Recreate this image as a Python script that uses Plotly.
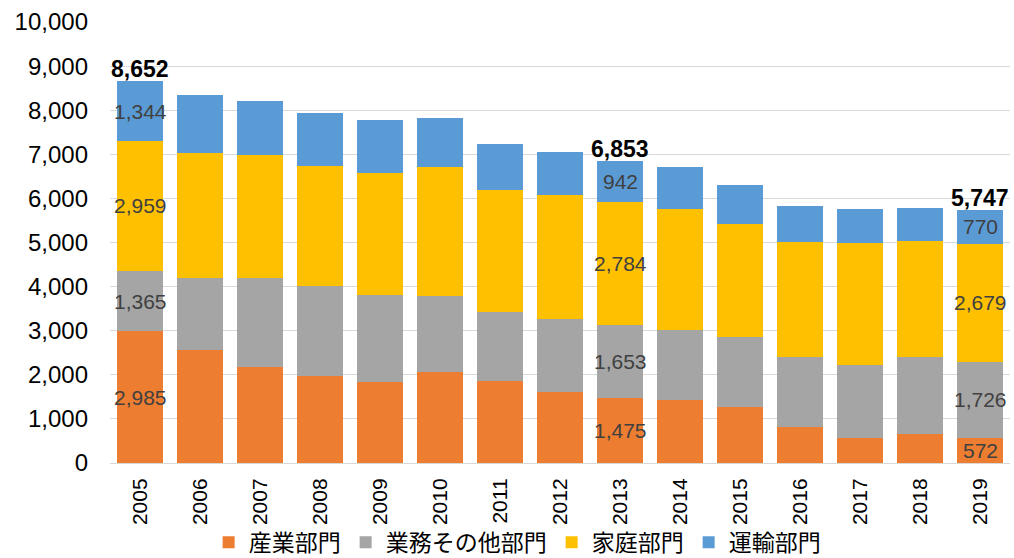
import plotly.graph_objects as go

years = [str(y) for y in range(2005, 2020)]

# Sector values per year
industry = [2985, 2573, 2178, 1974, 1838, 2065, 1854, 1620, 1475, 1439, 1271, 817, 576, 658, 572]
business = [1365, 1625, 2006, 2036, 1967, 1725, 1559, 1648, 1653, 1572, 1588, 1588, 1657, 1740, 1726]
household = [2959, 2830, 2791, 2722, 2775, 2920, 2775, 2806, 2784, 2746, 2564, 2610, 2752, 2633, 2679]
transport = [1344, 1316, 1239, 1196, 1196, 1105, 1037, 983, 942, 946, 885, 810, 779, 748, 770]

series_names = ["産業部門", "業務その他部門", "家庭部門", "運輸部門"]
series_colors = ["#ED7D31", "#A5A5A5", "#FFC000", "#5B9BD5"]

# Years with segment labels, and their stated totals
labelled_years = ["2005", "2013", "2019"]
labelled_totals = [8652, 6853, 5747]

y_ticks = list(range(0, 10001, 1000))

all_series = [industry, business, household, transport]

fig = go.Figure()
for name, color, vals in zip(series_names, series_colors, all_series):
    fig.add_trace(go.Bar(
        x=years, y=vals, name=name,
        marker=dict(color=color, line=dict(width=0)),
        hoverinfo="x+y+name",
    ))

# On a category axis, annotation positions are given as category indices
annotations = []
for yr in labelled_years:
    i = years.index(yr)
    base = 0
    for vals in all_series:
        v = vals[i]
        annotations.append(dict(
            x=i, y=base + v / 2, text=f"{v:,}", showarrow=False,
            xref="x", yref="y",
            font=dict(family="Liberation Sans, Arial", size=21, color="#404040"),
        ))
        base += v

for yr, tot in zip(labelled_years, labelled_totals):
    i = years.index(yr)
    annotations.append(dict(
        x=i, y=tot, text=f"<b>{tot:,}</b>", showarrow=False,
        xref="x", yref="y", yanchor="bottom", yshift=-3,
        font=dict(family="Liberation Sans, Arial", size=23, color="#000000"),
    ))

fig.update_layout(
    barmode="stack",
    bargap=0.233,
    width=1014, height=558,
    margin=dict(l=110, r=4, t=22, b=95, autoexpand=False),
    paper_bgcolor="white",
    plot_bgcolor="white",
    font=dict(family="Liberation Sans, Arial", color="#000000"),
    annotations=annotations,
    legend=dict(
        orientation="h",
        xref="container", x=0.51, xanchor="center",
        yref="paper", y=-0.18, yanchor="middle",
        bgcolor="rgba(0,0,0,0)",
        font=dict(family="Noto Sans CJK JP", size=23, color="#000000"),
        itemwidth=30,
        traceorder="normal",
    ),
    xaxis=dict(
        type="category",
        range=[-0.5, len(years) - 0.5],
        tickangle=-90,
        tickfont=dict(family="Liberation Sans, Arial", size=21, color="#000000"),
        showline=True, linecolor="#D9D9D9", linewidth=1,
        showgrid=False, ticks="",
        ticklabelstandoff=6,
        automargin=False,
    ),
    yaxis=dict(
        range=[0, 10000],
        tickvals=y_ticks,
        tickformat=",d",
        tickfont=dict(family="Liberation Sans, Arial", size=24, color="#000000"),
        showgrid=True, gridcolor="#D9D9D9", gridwidth=1,
        zeroline=False, showline=False, ticks="",
        ticklabelstandoff=21,
        automargin=False,
    ),
)

fig.write_html("out.html")
